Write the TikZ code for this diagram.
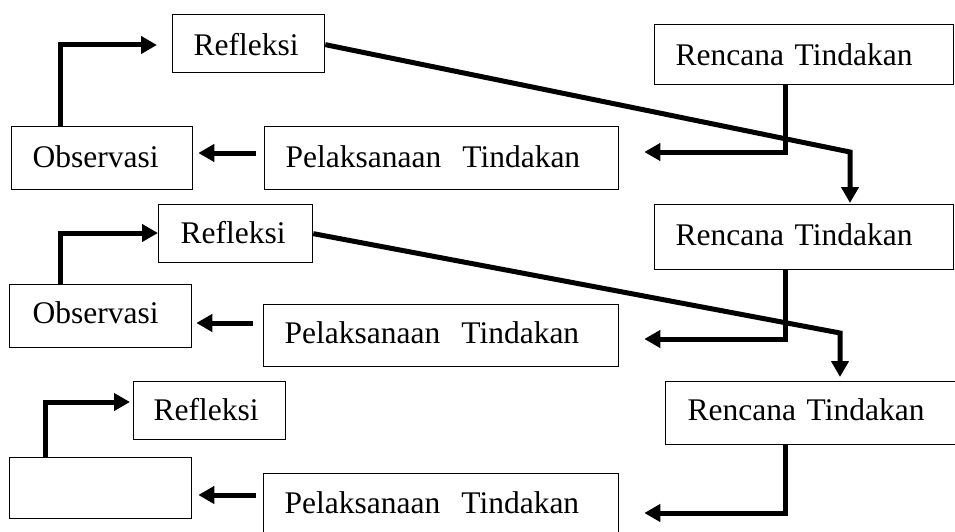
\documentclass[tikz,border=0pt]{standalone}
\usepackage{fontspec}
\setmainfont{Liberation Serif}
\usetikzlibrary{arrows.meta,calc}
\begin{document}
\begin{tikzpicture}[x=1pt,y=-1pt,
 box/.style={draw, line width=1.3pt, inner xsep=21pt, inner ysep=0pt, anchor=north west, align=left, font=\fontsize{31.5}{36}\selectfont},
 conn/.style={line width=5pt, line join=miter, -{Triangle[length=16pt,width=17pt]}}]
\clip (0,0) rectangle (955,532);
% boxes
\node[box, text width=257pt, text height=41pt, text depth=19pt] (r1) at (654,24) {Rencana Tindakan};
\node[box, text width=257pt, text height=41pt, text depth=24pt] (r2) at (654,204) {Rencana Tindakan};
\node[box, text width=246pt, inner xsep=22pt, text height=39pt, text depth=24pt] (r3) at (665,381) {Rencana Tindakan};
\node[box, text width=110pt, text height=41pt, text depth=17pt] (f1) at (172,14) {Refleksi};
\node[box, text width=110pt, inner xsep=22pt, text height=39pt, text depth=19pt] (f2) at (158,204) {Refleksi};
\node[box, text width=112pt, inner xsep=20pt, text height=39pt, text depth=19pt] (f3) at (133,381) {Refleksi};
\node[box, text width=139pt, text height=41pt, text depth=22pt] (o1) at (11,126) {Observasi};
\node[box, text width=136pt, inner xsep=23pt, text height=39pt, text depth=24pt] (o2) at (9,284) {Observasi};
\node[box, text width=140pt, text height=30pt, text depth=31pt] (o3) at (9,457) {};
\node[box, text width=312pt, text height=41pt, text depth=22pt] (p1) at (264,126) {Pelaksanaan\ \ Tindakan};
\node[box, text width=313pt, text height=39pt, text depth=23pt] (p2) at (263,304) {Pelaksanaan\ \ Tindakan};
\node[box, text width=313pt, text height=40pt, text depth=40pt] (p3) at (263,473) {Pelaksanaan\ \ Tindakan};
% bend points
\coordinate (c1) at (60,45);
\coordinate (c2) at (256,153);
\coordinate (c3) at (785,152);
\coordinate (c4) at (850,152);
\coordinate (c5) at (60,233);
\coordinate (c6) at (253,323);
\coordinate (c7) at (785,339);
\coordinate (c8) at (840,333);
\coordinate (c9) at (45,402);
\coordinate (c10) at (256,495);
\coordinate (c11) at (785,513);
% connectors
\draw[conn, shorten >=15pt] (c1 |- o1.north) -- (c1) -- (c1 -| f1.west);
\draw[conn, shorten <=8pt, shorten >=5pt] (c2 -| p1.west) -- (c2 -| o1.east);
\draw[conn, shorten >=25pt] (c3 |- r1.south) -- (c3) -- (c3 -| p1.east);
\draw[conn, shorten >=1pt] ([yshift=-1pt]f1.east) -- (c4) -- (c4 |- r2.north);
\draw[conn] (c5 |- o2.north) -- (c5) -- (c5 -| f2.west);
\draw[conn, shorten <=10pt, shorten >=4pt] (c6 -| p2.west) -- (c6 -| o2.east);
\draw[conn, shorten >=25pt] (c7 |- r2.south) -- (c7) -- (c7 -| p2.east);
\draw[conn, shorten >=4pt] (f2.east) -- (c8) -- (c8 |- r3.north);
\draw[conn, shorten >=3pt] (c9 |- o3.north) -- (c9) -- (c9 -| f3.west);
\draw[conn, shorten <=7pt, shorten >=6pt] (c10 -| p3.west) -- (c10 -| o3.east);
\draw[conn, shorten >=25pt] (c11 |- r3.south) -- (c11) -- (c11 -| p3.east);
\end{tikzpicture}
\end{document}
